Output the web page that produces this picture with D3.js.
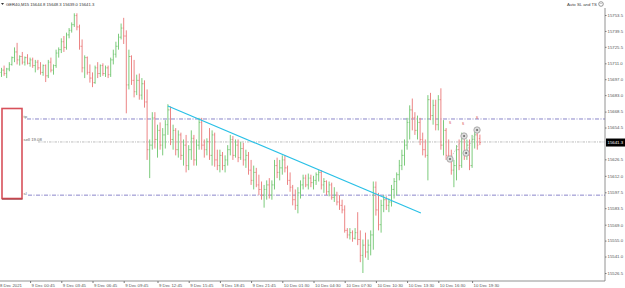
<!DOCTYPE html>
<html>
<head>
<meta charset="utf-8">
<script src="https://cdn.jsdelivr.net/npm/d3@7"></script>
<style>
  html, body { margin: 0; padding: 0; background: #fff; overflow: hidden; }
  svg { display: block; }
</style>
</head>
<body>
<svg id="chart"></svg>
<script>
// chart values (GER40 M15, 9-10 Dec 2021)
var symbol = "GER40,M15";

var opens = [
  15703, 15705, 15702, 15706, 15710, 15716, 15721, 15714, 15717, 15712,
  15716, 15711, 15714, 15709, 15712, 15707, 15703, 15709, 15700, 15712,
  15705, 15709, 15720, 15723, 15730, 15725, 15736, 15740, 15745, 15753,
  15743, 15726, 15707, 15716, 15703, 15698, 15694, 15707, 15702, 15709,
  15702, 15707, 15701, 15714, 15719, 15726, 15734, 15742, 15735, 15692,
  15717, 15696, 15686, 15696, 15683, 15693, 15677, 15635, 15639, 15663,
  15644, 15652, 15639, 15648, 15657, 15670, 15644, 15652, 15635, 15648,
  15630, 15639, 15621, 15635, 15645, 15626, 15639, 15659, 15639, 15635,
  15642, 15630, 15648, 15626, 15621, 15630, 15621, 15626, 15635, 15644,
  15630, 15639, 15628, 15636, 15626, 15630, 15617, 15608, 15615, 15604,
  15600, 15595, 15600, 15604, 15595, 15604, 15621, 15615, 15619, 15626,
  15619, 15608, 15602, 15591, 15586, 15597, 15604, 15610, 15604, 15610,
  15606, 15608, 15613, 15615, 15604, 15607, 15598, 15604, 15593, 15595,
  15589, 15586, 15582, 15564, 15560, 15562, 15557, 15562, 15556, 15542,
  15551, 15545, 15551, 15560, 15602, 15582, 15569, 15586, 15591, 15586,
  15589, 15600, 15607, 15613, 15621, 15630, 15639, 15659, 15670, 15663,
  15652, 15659, 15644, 15635, 15630, 15679, 15665, 15674, 15657, 15679,
  15639, 15652, 15630, 15628, 15617, 15621, 15635, 15621, 15645, 15630,
  15639, 15621, 15644, 15648, 15644.8
];
var highs = [
  15707, 15709, 15707, 15712, 15717, 15725, 15729, 15718, 15721, 15717,
  15719, 15716, 15716, 15714, 15714, 15712, 15710, 15710, 15714, 15716,
  15710, 15723, 15725, 15733, 15735, 15738, 15742, 15747, 15755, 15755,
  15745, 15732, 15718, 15717, 15710, 15703, 15709, 15712, 15710, 15711,
  15709, 15709, 15716, 15723, 15730, 15737, 15746, 15751, 15740, 15723,
  15718, 15714, 15701, 15702, 15698, 15696, 15688, 15644, 15668, 15668,
  15657, 15659, 15654, 15661, 15675, 15673, 15657, 15654, 15652, 15650,
  15644, 15648, 15639, 15652, 15648, 15644, 15663, 15663, 15644, 15645,
  15654, 15652, 15650, 15635, 15635, 15633, 15630, 15639, 15648, 15647,
  15644, 15644, 15642, 15641, 15635, 15633, 15626, 15621, 15619, 15613,
  15607, 15604, 15608, 15610, 15608, 15626, 15628, 15626, 15630, 15630,
  15621, 15615, 15604, 15600, 15602, 15608, 15613, 15613, 15614, 15613,
  15612, 15615, 15617, 15617, 15610, 15608, 15607, 15606, 15602, 15598,
  15595, 15591, 15586, 15566, 15566, 15564, 15566, 15580, 15564, 15556,
  15562, 15556, 15564, 15607, 15607, 15597, 15591, 15595, 15594, 15592,
  15604, 15610, 15615, 15626, 15635, 15644, 15663, 15674, 15680, 15668,
  15665, 15663, 15650, 15644, 15683, 15685, 15679, 15679, 15683, 15689,
  15661, 15654, 15644, 15635, 15626, 15639, 15644, 15650, 15648, 15644,
  15644, 15648, 15652, 15654, 15648.3
];
var lows = [
  15699, 15700, 15698, 15704, 15709, 15712, 15710, 15709, 15710, 15709,
  15710, 15708, 15707, 15703, 15705, 15701, 15700, 15694.5, 15698, 15703,
  15701, 15707, 15716, 15720, 15721, 15723, 15733, 15738, 15743, 15740,
  15723, 15703, 15698, 15701, 15694, 15690, 15693, 15698, 15699, 15700,
  15699, 15698, 15699, 15710, 15716, 15723, 15732, 15728, 15667, 15688,
  15692, 15681, 15683, 15679, 15679, 15672, 15626, 15610, 15635, 15636,
  15628, 15635, 15630, 15636, 15648, 15639, 15635, 15630, 15628, 15626,
  15621, 15615, 15617, 15626, 15621, 15621, 15635, 15635, 15628, 15630,
  15626, 15621, 15620, 15617, 15615, 15617, 15615, 15621, 15630, 15626,
  15628, 15624, 15626, 15621, 15619, 15613, 15604, 15600, 15602, 15595,
  15591, 15584, 15591, 15592, 15591, 15600, 15610, 15608, 15613, 15615,
  15604, 15598, 15586, 15582, 15579, 15592, 15600, 15602, 15600, 15602,
  15600, 15604, 15607, 15600, 15597, 15595, 15594, 15591, 15589, 15586,
  15582, 15579, 15562, 15557, 15556, 15554, 15556, 15551, 15536, 15526.5,
  15540, 15538, 15542, 15547, 15577, 15564, 15562, 15580, 15582, 15580,
  15585, 15592, 15595, 15608, 15617, 15621, 15635, 15644, 15652, 15648,
  15644, 15639, 15630, 15628, 15608, 15661, 15657, 15652, 15652, 15635,
  15630, 15626, 15624, 15613, 15602, 15608, 15617, 15619, 15626, 15626,
  15617, 15619, 15636, 15635, 15639.0
];
var closes = [
  15705, 15702, 15706, 15710, 15716, 15721, 15714, 15717, 15712, 15716,
  15711, 15714, 15709, 15712, 15707, 15703, 15709, 15700, 15712, 15705,
  15709, 15720, 15723, 15730, 15725, 15736, 15740, 15745, 15753, 15743,
  15726, 15707, 15716, 15703, 15698, 15694, 15707, 15702, 15709, 15702,
  15707, 15701, 15714, 15719, 15726, 15734, 15742, 15735, 15692, 15717,
  15696, 15686, 15696, 15683, 15693, 15677, 15635, 15639, 15663, 15644,
  15652, 15639, 15648, 15657, 15670, 15644, 15652, 15635, 15648, 15630,
  15639, 15621, 15635, 15645, 15626, 15639, 15659, 15639, 15635, 15642,
  15630, 15648, 15626, 15621, 15630, 15621, 15626, 15635, 15644, 15630,
  15639, 15628, 15636, 15626, 15630, 15617, 15608, 15615, 15604, 15600,
  15595, 15600, 15604, 15595, 15604, 15621, 15615, 15619, 15626, 15619,
  15608, 15602, 15591, 15586, 15597, 15604, 15610, 15604, 15610, 15606,
  15608, 15613, 15615, 15604, 15607, 15598, 15604, 15593, 15595, 15589,
  15586, 15582, 15564, 15560, 15562, 15557, 15562, 15556, 15542, 15551,
  15545, 15551, 15560, 15602, 15582, 15569, 15586, 15591, 15586, 15589,
  15600, 15607, 15613, 15621, 15630, 15639, 15659, 15670, 15663, 15652,
  15659, 15644, 15635, 15630, 15679, 15665, 15674, 15657, 15679, 15639,
  15652, 15630, 15628, 15617, 15621, 15635, 15621, 15645, 15630, 15639,
  15621, 15644, 15648, 15639, 15641.3
];

var firstDate = "8 Dec 2021";
var timeLabels = ["9 Dec 00:45", "9 Dec 03:45", "9 Dec 06:45", "9 Dec 09:45", "9 Dec 12:45",
  "9 Dec 15:45", "9 Dec 18:45", "9 Dec 21:45", "10 Dec 01:30", "10 Dec 04:30",
  "10 Dec 07:30", "10 Dec 10:30", "10 Dec 13:30", "10 Dec 16:30", "10 Dec 19:30"];
var timeLabelIdx = [11, 23, 35, 47, 60, 72, 84, 96, 108, 120, 132, 144, 156, 168, 181];

var priceTicks = [15753.5, 15739.5, 15725.5, 15711.0, 15697.0, 15683.0, 15668.5, 15654.5,
  15626.5, 15612.0, 15597.5, 15583.5, 15569.0, 15555.0, 15541.0, 15526.5];

// order levels
var tpPrice = 15662;
var slPrice = 15595;
var sellPrice = 15641.8;
var sellLots = "19.08";

// trend line drawn on the chart (bar index, price)
var trendIdx = [64, 161.3];
var trendPrice = [15673.4, 15579.3];

// trade history markers
var tradeIdx = [172.5, 177.9, 178.7, 182.9];
var tradePrice = [15626.8, 15647, 15632, 15652.3];
var arrowIdx = [172.5, 177.5, 182.9];
var arrowPrice = [15658.5, 15657.6, 15662.9];

// ---- drawing ----
var width = 625, height = 288;
var axisX = 605, axisY = 281;
var font = "'Liberation Sans', 'DejaVu Sans', sans-serif";

var svg = d3.select("#chart")
    .attr("width", width)
    .attr("height", height)
    .style("font-family", font);

var n = opens.length;
var x = d3.scaleLinear()
    .domain([0, n - 1])
    .range([1.5, 479.9]);

var y = d3.scaleLinear()
    .domain([15526.5, 15753.5])
    .range([273, 15]);

var upColor = "#7ccb7c", downColor = "#ec8585";

// order lines
function levelLine(price, x0, color, dash) {
    svg.append("line")
        .attr("x1", x0).attr("x2", axisX)
        .attr("y1", y(price)).attr("y2", y(price))
        .attr("stroke", color)
        .attr("stroke-width", 0.9)
        .attr("stroke-dasharray", dash);
}
levelLine(tpPrice, 27, "#7d78c4", "4,1.5,1,1.5");
levelLine(sellPrice, 38, "#b5b5b5", "2.5,1,1,1");
levelLine(slPrice, 28, "#7d78c4", "4,1.5,1,1.5");

function levelText(price, txt) {
    svg.append("text")
        .attr("x", 23.5).attr("y", y(price) - 0.5)
        .attr("font-size", 4.3)
        .attr("fill", "#666")
        .text(txt);
}
levelText(tpPrice, "tp");
levelText(sellPrice, "sell " + sellLots);
levelText(slPrice, "sl");

// bars
var bars = svg.append("g").attr("class", "bars");
d3.range(n).forEach(function (i) {
    var c = closes[i] >= opens[i] ? upColor : downColor;
    var g = bars.append("g").attr("stroke", c).attr("stroke-width", 1);
    g.append("line")
        .attr("x1", x(i)).attr("x2", x(i))
        .attr("y1", y(highs[i])).attr("y2", y(lows[i]));
    g.append("line")
        .attr("x1", x(i) - 1).attr("x2", x(i))
        .attr("y1", y(opens[i])).attr("y2", y(opens[i]));
    g.append("line")
        .attr("x1", x(i)).attr("x2", x(i) + 1)
        .attr("y1", y(closes[i])).attr("y2", y(closes[i]));
});

// trend line
svg.append("line")
    .attr("x1", x(trendIdx[0])).attr("y1", y(trendPrice[0]))
    .attr("x2", x(trendIdx[1])).attr("y2", y(trendPrice[1]))
    .attr("stroke", "#29c0e6")
    .attr("stroke-width", 1.2);

// trade markers
[[0, 1], [2, 3]].forEach(function (p) {
    svg.append("line")
        .attr("x1", x(tradeIdx[p[0]])).attr("y1", y(tradePrice[p[0]]))
        .attr("x2", x(tradeIdx[p[1]])).attr("y2", y(tradePrice[p[1]]))
        .attr("stroke", "#aaa")
        .attr("stroke-width", 0.7)
        .attr("stroke-dasharray", "1,1");
});
tradeIdx.forEach(function (d, i) {
    svg.append("circle")
        .attr("cx", x(d)).attr("cy", y(tradePrice[i]))
        .attr("r", 3.2)
        .attr("fill", "#dcdcdc")
        .attr("stroke", "#a0a0a0")
        .attr("stroke-width", 0.8);
    svg.append("circle")
        .attr("cx", x(d)).attr("cy", y(tradePrice[i]))
        .attr("r", 1)
        .attr("fill", "#666");
});
arrowIdx.forEach(function (d, i) {
    svg.append("text")
        .attr("x", x(d)).attr("y", y(arrowPrice[i]) + 1.5)
        .attr("text-anchor", "middle")
        .attr("font-size", 4.5)
        .attr("fill", "#e06060")
        .text("s");
});

// red panel on the left
svg.append("rect")
    .attr("x", 2).attr("y", 108.5)
    .attr("width", 20).attr("height", 90)
    .attr("fill", "#fff")
    .attr("stroke", "#d8505a")
    .attr("stroke-width", 1.6);
svg.append("line")
    .attr("x1", 2).attr("x2", 22.5)
    .attr("y1", 199.2).attr("y2", 199.2)
    .attr("stroke", "#8c2a30").attr("stroke-width", 0.8);

// axes
svg.append("line")
    .attr("x1", axisX).attr("x2", axisX)
    .attr("y1", 8).attr("y2", axisY)
    .attr("stroke", "#777").attr("stroke-width", 0.8);
svg.append("line")
    .attr("x1", 0).attr("x2", axisX)
    .attr("y1", axisY).attr("y2", axisY)
    .attr("stroke", "#777").attr("stroke-width", 0.8);

var yAxis = svg.append("g")
    .attr("transform", "translate(" + axisX + ",0)")
    .call(d3.axisRight(y).tickValues(priceTicks).tickSize(1.5).tickPadding(1)
        .tickFormat(d3.format(".1f")));
yAxis.select(".domain").remove();
yAxis.attr("font-size", 4.3).attr("font-family", font);
yAxis.selectAll("line").attr("stroke", "#777");
yAxis.selectAll("text").attr("fill", "#555");

var xAxis = svg.append("g")
    .attr("transform", "translate(0," + axisY + ")")
    .call(d3.axisBottom(x).tickValues(timeLabelIdx).tickSize(2).tickPadding(0.5)
        .tickFormat(function (d, i) { return timeLabels[i]; }));
xAxis.select(".domain").remove();
xAxis.attr("font-size", 4.3).attr("font-family", font);
xAxis.selectAll("line").attr("stroke", "#777");
xAxis.selectAll("text").attr("fill", "#555").attr("text-anchor", "start").attr("dx", 1);

svg.append("text")
    .attr("x", 0).attr("y", axisY + 6)
    .attr("font-size", 4.3).attr("fill", "#555")
    .text(firstDate);

// current price box
var last = closes[n - 1];
svg.append("rect")
    .attr("x", axisX + 1).attr("y", y(last) - 4)
    .attr("width", 19).attr("height", 8)
    .attr("fill", "#000");
svg.append("text")
    .attr("x", axisX + 2.5).attr("y", y(last) + 1.5)
    .attr("font-size", 4.3).attr("fill", "#fff")
    .text(d3.format(".1f")(last));

// header
svg.append("path")
    .attr("d", "M1,3 L4,3 L2.5,5 Z")
    .attr("fill", "#333");
svg.append("text")
    .attr("x", 6).attr("y", 5.5)
    .attr("font-size", 4.2).attr("fill", "#333")
    .text(symbol + "  " + [opens[n - 1], highs[n - 1], lows[n - 1], closes[n - 1]]
        .map(d3.format(".1f")).join(" "));

svg.append("text")
    .attr("x", 597).attr("y", 5.5)
    .attr("text-anchor", "end")
    .attr("font-size", 4.3).attr("fill", "#444")
    .text("Auto SL and TS");
svg.append("circle")
    .attr("cx", 601).attr("cy", 4).attr("r", 2.3)
    .attr("fill", "none").attr("stroke", "#555").attr("stroke-width", 0.6);
svg.append("circle").attr("cx", 600.2).attr("cy", 3.4).attr("r", 0.35).attr("fill", "#555");
svg.append("circle").attr("cx", 601.8).attr("cy", 3.4).attr("r", 0.35).attr("fill", "#555");
</script>
</body>
</html>
